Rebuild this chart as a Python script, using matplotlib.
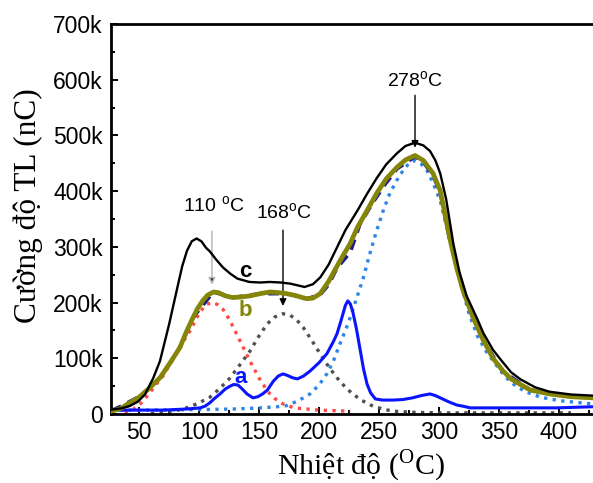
import matplotlib
matplotlib.use("Agg")
import matplotlib.pyplot as plt
from matplotlib.ticker import MultipleLocator, FixedLocator

# ---- glow-curve data (temperature in degC, intensity in thousands of nC) ----
c_T = [27, 35, 42, 49, 55, 62, 67.5, 75, 82, 86, 90, 94, 98, 102, 106, 109, 114,
       120, 126, 132, 142, 151, 159, 168, 176, 182, 188, 195, 201, 208, 215, 222,
       232, 240, 248, 256, 265, 272, 280, 287, 292.5, 297, 301, 306, 312, 317,
       323, 332, 337, 345, 352, 360, 368, 380, 392, 410, 428]
c_I = [8, 10, 14, 22, 35, 65, 95, 160, 227, 265, 293, 310, 315, 310, 298, 292, 278,
       263, 252, 243, 237, 236, 237, 236, 234, 231, 228, 233, 245, 268, 299, 330,
       365, 395, 423, 448, 468, 481, 487, 482, 472, 455, 432, 385, 305, 255,
       212, 170, 145, 115, 96, 75, 62, 48, 40, 35, 33]

b_T = [27, 35, 42, 50, 58, 67.5, 76, 84, 90, 95, 99, 103, 107, 112, 116, 122, 128,
       135, 142.5, 151, 159, 166, 173, 180, 186, 190, 195, 201, 208, 217.5, 226,
       232, 240, 248, 256, 265, 272, 280, 287, 295, 301, 309, 315, 320, 328, 337,
       345, 353, 360, 367, 376, 392, 410, 428]
b_I = [5, 10, 20, 30, 45, 65, 92, 119, 150, 173, 190, 203, 213, 219, 218, 212, 209,
       210, 212, 216, 219, 218, 216, 213, 209, 207, 208, 216, 238, 275, 306,
       335, 365, 396, 422, 443, 456, 464, 455, 432, 401, 315, 260, 222, 175, 132,
       100, 78, 63, 54, 43, 36, 31, 29]

sum_T = [27, 35, 42, 50, 58, 67.5, 76, 84, 95, 112, 128, 151, 173, 190, 201, 208,
         215, 226, 234, 245, 255, 265, 280, 287, 295, 301, 309, 320, 337, 353,
         376, 410, 428]
sum_I = [6, 14, 22, 31, 45, 65, 92, 119, 173, 219, 209, 216, 216, 207, 214, 232,
         262, 290, 340, 380, 412, 440, 462, 452, 428, 398, 313, 221, 131, 77,
         43, 31, 29]

a_T = [27, 50, 70, 90, 101, 105, 109, 113, 117.5, 122, 126, 129, 132.5, 136, 140,
       145, 149, 153, 157, 162, 166, 170, 174, 178, 182, 187, 192.5, 200, 206.5,
       212, 215, 218, 220, 222, 224, 226, 228, 231, 234, 237, 240, 243, 247, 253,
       262, 270, 278, 285, 292.5, 297, 301, 305, 309, 315, 320, 326, 342.5, 370,
       398, 428]
a_I = [7, 7, 7, 9, 11, 14, 20, 28, 36, 45, 50, 53, 52, 45, 36,
       29, 31, 36, 43, 59, 68, 72, 69, 65, 63, 68, 77, 92, 108,
       130, 144, 165, 180, 195, 203, 198, 185, 155, 119, 82, 54, 38, 27, 25,
       25, 26, 29, 33, 36, 33, 29, 25, 21, 16, 14, 11, 11, 11,
       11, 13]

p1_T = [38, 45, 51, 58, 65, 70, 76, 84, 92.5, 100, 105, 110, 115, 120, 126, 134,
        142.5, 150, 157, 163, 170, 178, 184, 200, 226]
p1_I = [3, 8, 18, 35, 55, 68, 90, 120, 149, 180, 195, 200, 197, 188, 167, 132,
        95, 65, 41, 28, 18, 12, 10, 7, 5]

p2_T = [60, 75, 85, 92.5, 100, 109, 117, 126, 134, 142.5, 150, 157, 163, 170, 176,
        181, 187, 194, 201, 208, 215, 222, 228, 236, 245, 255, 262, 280, 300, 350,
        410]
p2_I = [1, 4, 8, 13, 20, 30, 45, 65, 88, 113, 140, 162, 174, 180, 177,
        170, 155, 132, 108, 85, 65, 48, 36, 24, 14, 8, 5, 3, 2, 2,
        2]

p3_T = [27, 60, 100, 130, 151, 165, 173, 183, 192.5, 200, 206.5, 212, 217.5, 222,
        226, 232, 237, 242, 248, 254, 259, 265, 270, 275, 280, 285, 290, 295, 301,
        307, 312, 318, 325, 332, 340, 348, 355, 363, 372, 385, 400, 428]
p3_I = [7, 7, 8, 9, 11, 13, 15, 24, 36, 52, 72, 95, 126, 150,
        173, 212, 245, 285, 329, 368, 396, 420, 437, 450, 455, 449, 437, 415, 383,
        330, 285, 235, 180, 140, 110, 87, 67, 52, 40, 30, 24, 18]

x_ticks = [50, 100, 150, 200, 250, 300, 350, 400]
y_ticks = [0, 100, 200, 300, 400, 500, 600, 700]
y_tick_labels = ["0", "100k", "200k", "300k", "400k", "500k", "600k", "700k"]

peak_labels = [r"110 $^{\mathregular{o}}$C", r"168$^{\mathregular{o}}$C", r"278$^{\mathregular{o}}$C"]


def k(vals):
    return [v * 1000 for v in vals]


plt.rcParams["font.family"] = ["Liberation Sans", "DejaVu Sans"]

fig = plt.figure(figsize=(5.93, 4.83), dpi=100)
ax = fig.add_axes([111 / 593, 1 - 414 / 483, 1 - 111 / 593, (414 - 24) / 483])

dot = (0, (1, 1.6))
ax.plot(p1_T, k(p1_I), color="#ff4a4a", lw=2.4, ls=dot, zorder=2)
ax.plot(p2_T, k(p2_I), color="#505050", lw=2.4, ls=dot, zorder=2)
ax.plot(p3_T, k(p3_I), color="#2f86e6", lw=2.4, ls=dot, zorder=2)
ax.plot(a_T, k(a_I), color="#0a14ff", lw=2.2, zorder=3)
ax.plot(sum_T, k(sum_I), color="#1c1c8a", lw=2.6, ls=(0, (3, 2)), zorder=3)
ax.plot(b_T, k(b_I), color="#85850a", lw=3.4, zorder=4)
ax.plot(c_T, k(c_I), color="black", lw=1.7, zorder=5)

ax.set_xlim(26.7, 428.3)
ax.set_ylim(0, 700000)
ax.xaxis.set_major_locator(FixedLocator(x_ticks))
ax.xaxis.set_minor_locator(MultipleLocator(25))
ax.set_yticks(k(y_ticks))
ax.set_yticklabels(y_tick_labels)
ax.yaxis.set_minor_locator(MultipleLocator(50000))
ax.tick_params(which="both", direction="in", width=1.4, labelsize=16.5, top=False, right=False)
ax.tick_params(which="major", length=5)
ax.tick_params(which="minor", length=3)
ax.tick_params(axis="y", pad=6)
ax.tick_params(axis="x", pad=5)
for side in ("left", "bottom", "top"):
    ax.spines[side].set_linewidth(2)
ax.spines["right"].set_visible(False)

# curve letters
ax.text(139, 255000, "c", color="black", fontsize=16, fontweight="bold", ha="center", va="center")
ax.text(139, 185000, "b", color="#85850a", fontsize=16, fontweight="bold", ha="center", va="center")
ax.text(135, 65000, "a", color="#0a14ff", fontsize=16, fontweight="bold", ha="center", va="center")

# peak annotations
ax.text(112.5, 374000, peak_labels[0], fontsize=14, ha="center", va="center")
ax.annotate("", xy=(110.8, 227000), xytext=(110.8, 333000),
            arrowprops=dict(arrowstyle="-|>", color="#b8b8b8", fc="#333333", lw=1.1, mutation_scale=10))
ax.text(171, 362000, peak_labels[1], fontsize=14, ha="center", va="center")
ax.annotate("", xy=(170, 189000), xytext=(170, 335000),
            arrowprops=dict(arrowstyle="-|>", color="black", lw=1.0, mutation_scale=10))
ax.text(280, 599000, peak_labels[2], fontsize=14, ha="center", va="center")
ax.annotate("", xy=(280, 473000), xytext=(280, 577000),
            arrowprops=dict(arrowstyle="-|>", color="black", lw=1.0, mutation_scale=10))

fig.text(28 / 593, 1 - 206 / 483, "Cường độ TL (nC)", rotation=90, ha="center", va="center",
         fontsize=22.5, family=["Liberation Serif", "DejaVu Serif"])
fig.text(361 / 593, 1 - 475 / 483, r"Nhiệt độ ($^{\mathregular{O}}$C)", ha="center", va="baseline",
         fontsize=21.5, family=["Liberation Serif", "DejaVu Serif"])

fig.savefig("out.png", dpi=100)
